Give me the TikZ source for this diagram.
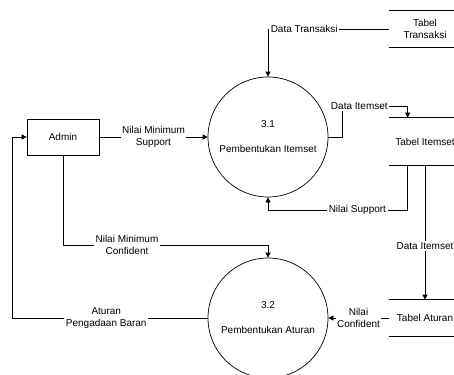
\documentclass[tikz,border=0pt]{standalone}
\usepackage{fontspec}
\setmainfont{Liberation Sans}
\usetikzlibrary{arrows.meta}

\begin{document}
\begin{tikzpicture}[x=1pt, y=-1pt, line width=0.7pt,
    font=\fontsize{10}{12}\selectfont,
    entity/.style={draw, minimum width=72pt, minimum height=36pt, inner sep=0pt},
    process/.style={draw, circle, minimum size=120pt, inner sep=0pt, align=center},
    store/.style={minimum width=72pt, inner sep=0pt, align=center},
    flow/.style={-{Triangle[length=5pt,width=5pt]}},
    flowlabel/.style={fill=white, align=center, inner sep=1.5pt}]
    \useasboundingbox (0,0) rectangle (454,374);

    % Nodes
    \node[entity] (admin) at (63,137) {Admin};
    \node[process] (proc_itemset) at (268,137) {3.1\\[13pt]Pembentukan Itemset};
    \node[process] (proc_aturan) at (268,318) {3.2\\[13pt]Pembentukan Aturan};
    \node[store, minimum height=36pt] (tbl_transaksi) at (425,29) {Tabel\\Transaksi};
    \node[store, minimum height=47pt] (tbl_itemset) at (425,141.5) {Tabel Itemset};
    \node[store, minimum height=36pt] (tbl_aturan) at (425,318) {Tabel Aturan};

    % Store lines
    \foreach \t in {tbl_transaksi,tbl_itemset,tbl_aturan}
        \draw (\t.north west) -- (\t.north east) (\t.south west) -- (\t.south east);

    % Arrows
    \draw[flow] (admin) -- node[flowlabel]{Nilai Minimum\\Support} (proc_itemset);
    \draw[flow] (admin.south) -- ++(0,90) -| node[flowlabel, pos=0.156]{Nilai Minimum\\Confident} (proc_aturan.north);
    \draw[flow] (tbl_transaksi.west) -| node[flowlabel, pos=0.35]{Data Transaksi} (proc_itemset.north);
    \draw[flow] (proc_itemset.east) -- ++(14,0) -- ++(0,-31) -| node[flowlabel, pos=0.13]{Data Itemset} ([xshift=19pt]tbl_itemset.north west);
    \draw[flow] ([xshift=19pt]tbl_itemset.south west) -- ++(0,45) -| node[flowlabel, pos=0.18]{Nilai Support} (proc_itemset.south);
    \draw[flow] (tbl_itemset.south) -- node[flowlabel, pos=0.6]{Data Itemset} (tbl_aturan.north);
    \draw[flow] (tbl_aturan.west) -- node[flowlabel]{Nilai\\Confident} (proc_aturan.east);
    \draw[flow] (proc_aturan.west) -- node[flowlabel, pos=0.52]{Aturan\\Pengadaan Baran} ++(-195,0) |- (admin.west);
\end{tikzpicture}
\end{document}
